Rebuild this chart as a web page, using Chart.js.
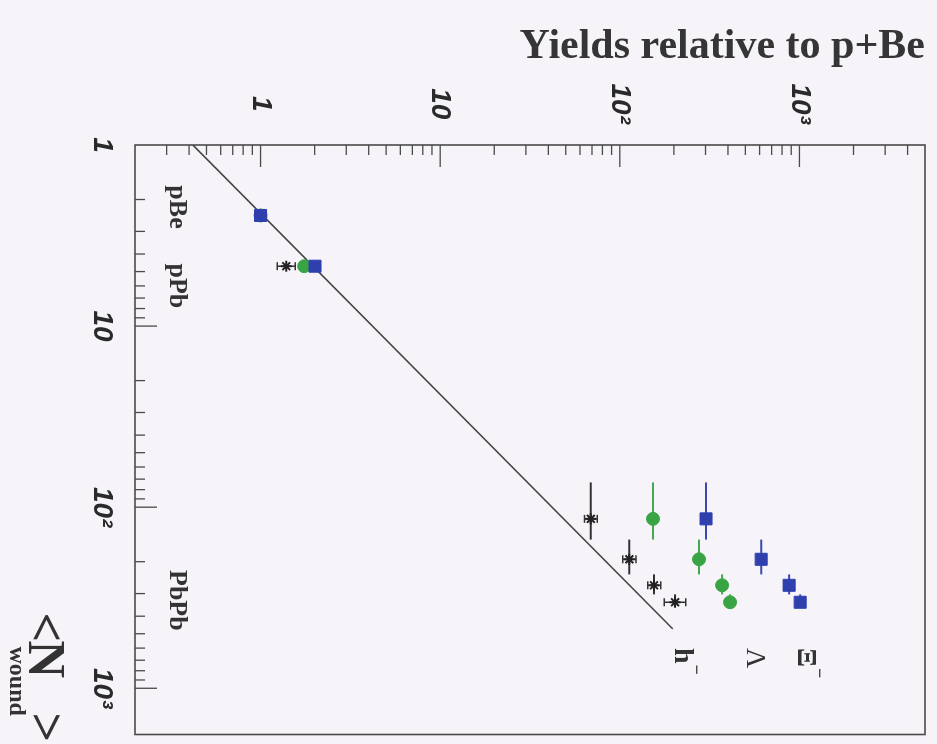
<!DOCTYPE html>
<html>
<head>
<meta charset="utf-8">
<script src="https://cdn.jsdelivr.net/npm/chart.js@4.4.1/dist/chart.umd.min.js"></script>
<style>
  html, body { margin: 0; padding: 0; width: 937px; height: 744px; overflow: hidden; background: #f6f3f9; }
  /* the plot is drawn upright and then turned a quarter turn clockwise, like the scan */
  #wrap { position: absolute; left: 0; top: 0; width: 744px; height: 937px;
          transform-origin: 0 0; transform: translate(937px, 0) rotate(90deg); }
</style>
</head>
<body>
<div id="wrap"><canvas id="yieldsChart" width="744" height="937"></canvas></div>
<script>
// tick labels (powers of ten)
const nTickLabels = ["1", "10", "10²", "10³"];
const yieldTickLabels = ["1", "10", "10²", "10³"];

// <N wound> for pBe, pPb and the four PbPb classes
const nWound = [2.45, 4.67, 116, 194, 270, 335];
const nWoundLo = [null, null, 73, 151, 235, 303];
const nWoundHi = [null, null, 151, 235, 303, 352];

// yields relative to p+Be
const xiYield = [1.0, 2.01, 302, 612, 876, 1009];
const lambdaYield = [1.0, 1.75, 153, 276, 371, 411];
const hYield = [1.0, 1.39, 69, 113, 155, 203];
const hYieldLo = [null, 1.24, 63.5, 104, 143, 177];
const hYieldHi = [null, 1.56, 75, 123, 169, 233];

// wounded nucleon scaling line
const scalingN = [1, 470];
const scalingYield = [0.42, 197];

// labels of the collision systems, placed at an <N wound> value
const systemLabels = ["pBe", "pPb", "PbPb"];
const systemLabelN = [2.2, 6.0, 327];

const pts = (xs, ys) => xs.map((x, i) => ({ x: x, y: ys[i] }));
const isPow10 = (v) => Math.abs(Math.log10(v) - Math.round(Math.log10(v))) < 1e-6;
const powLabel = (labels) => (v) => {
  const e = Math.round(Math.log10(v));
  return isPow10(v) && e >= 0 && e < labels.length ? labels[e] : "";
};

// frame with inward ticks on the two labelled axes
const frameTicks = {
  id: "frameTicks",
  beforeDatasetsDraw(chart) {
    const { ctx, chartArea: a, scales: { x, y } } = chart;
    ctx.save();
    ctx.strokeStyle = "#4a4a4a";
    ctx.lineWidth = 1.6;
    ctx.strokeRect(a.left, a.top, a.right - a.left, a.bottom - a.top);
    ctx.lineWidth = 1.3;
    const each = (scale, fn) => {
      for (let e = Math.floor(Math.log10(scale.min)); e <= Math.ceil(Math.log10(scale.max)); e++) {
        for (let s = 1; s <= 9; s++) {
          const v = s * Math.pow(10, e);
          if (v < scale.min * 1.001 || v > scale.max * 0.999) continue;
          fn(scale.getPixelForValue(v), s === 1 ? 22 : 10);
        }
      }
    };
    each(x, (px, len) => {
      ctx.beginPath(); ctx.moveTo(px, a.bottom); ctx.lineTo(px, a.bottom - len); ctx.stroke();
    });
    each(y, (py, len) => {
      ctx.beginPath(); ctx.moveTo(a.left, py); ctx.lineTo(a.left + len, py); ctx.stroke();
    });
    ctx.restore();
  }
};

// error bars: <N wound> range without caps, yield error with caps
const errorBars = {
  id: "errorBars",
  beforeDatasetsDraw(chart) {
    const { ctx, scales: { x, y } } = chart;
    chart.data.datasets.forEach((ds) => {
      if (!ds.xLo) return;
      ctx.save();
      ctx.strokeStyle = ds.barColor;
      ctx.lineWidth = 2;
      ds.data.forEach((p, i) => {
        const py = y.getPixelForValue(p.y);
        if (ds.xLo[i] != null) {
          ctx.beginPath();
          ctx.moveTo(x.getPixelForValue(ds.xLo[i]), py);
          ctx.lineTo(x.getPixelForValue(ds.xHi[i]), py);
          ctx.stroke();
        }
        if (ds.yLo && ds.yLo[i] != null) {
          const px = x.getPixelForValue(p.x);
          const y0 = y.getPixelForValue(ds.yLo[i]), y1 = y.getPixelForValue(ds.yHi[i]);
          ctx.lineWidth = 1.5;
          ctx.beginPath();
          ctx.moveTo(px, y0); ctx.lineTo(px, y1);
          ctx.moveTo(px - 4, y0); ctx.lineTo(px + 4, y0);
          ctx.moveTo(px - 4, y1); ctx.lineTo(px + 4, y1);
          ctx.stroke();
          ctx.lineWidth = 2;
        }
      });
      ctx.restore();
    });
  }
};

// texts: system names, species names and the <N wound> title
const textMarks = {
  id: "textMarks",
  afterDraw(chart) {
    const { ctx, chartArea: a, scales: { x } } = chart;
    ctx.save();
    ctx.fillStyle = "#333";
    ctx.textBaseline = "alphabetic";
    ctx.textAlign = "center";
    ctx.font = "bold 26px 'Liberation Serif'";
    systemLabels.forEach((s, i) => ctx.fillText(s, x.getPixelForValue(systemLabelN[i]), a.bottom - 35));

    ctx.textAlign = "left";
    const species = [["h", true, a.top + 250], ["Λ", false, a.top + 178], ["Ξ", true, a.top + 127]];
    species.forEach(([t, minus, base]) => {
      const x0 = a.left + 503;
      ctx.font = (t === "Λ" ? "" : "bold ") + "28px 'Liberation Serif'";
      ctx.fillText(t, x0, base);
      if (minus) {
        const w = ctx.measureText(t).width;
        ctx.font = "bold 18px 'Liberation Serif'";
        ctx.fillText("−", x0 + w + 1, base - 16);
      }
    });

    ctx.font = "bold 52px 'Liberation Serif'";
    const base = a.bottom + 106;
    ctx.fillText("<", a.right - 122, base);
    ctx.fillText("N", a.right - 94, base);
    ctx.fillText(">", a.right - 22, base);
    ctx.font = "bold 24px 'Liberation Serif'";
    ctx.fillText("wound", a.right - 88, base + 19);
    ctx.restore();
  }
};

const tickFont = { family: "Liberation Sans", size: 28, weight: "bold", style: "italic" };

new Chart(document.getElementById("yieldsChart"), {
  type: "scatter",
  data: {
    datasets: [
      {
        label: "Ξ−",
        data: pts(nWound, xiYield),
        pointStyle: "rect",
        pointRadius: 8.5,
        backgroundColor: "#2f3fae",
        borderColor: "#2f3fae",
        barColor: "#3a48b0",
        xLo: nWoundLo,
        xHi: nWoundHi,
      },
      {
        label: "Λ",
        data: pts(nWound, lambdaYield),
        pointStyle: "circle",
        pointRadius: 6.5,
        backgroundColor: "#38a444",
        borderColor: "#38a444",
        barColor: "#45a850",
        xLo: nWoundLo,
        xHi: nWoundHi,
      },
      {
        label: "h−",
        data: pts(nWound, hYield),
        pointStyle: "star",
        pointRadius: 5.5,
        borderWidth: 2,
        backgroundColor: "#222",
        borderColor: "#222",
        barColor: "#333",
        xLo: nWoundLo,
        xHi: nWoundHi,
        yLo: hYieldLo,
        yHi: hYieldHi,
      },
      {
        label: "scaling",
        data: pts(scalingN, scalingYield),
        showLine: true,
        pointRadius: 0,
        borderColor: "#444",
        borderWidth: 1.6,
      },
    ],
  },
  options: {
    responsive: false,
    animation: false,
    layout: { padding: { top: 12, right: 4, left: 0, bottom: 0 } },
    plugins: { legend: { display: false }, tooltip: { enabled: false } },
    scales: {
      x: {
        type: "logarithmic",
        min: 1,
        max: 1800,
        grid: { display: false, drawTicks: false },
        border: { display: false },
        ticks: { autoSkip: false, maxRotation: 0, padding: 16, color: "#2a2a2a", font: tickFont, callback: powLabel(nTickLabels) },
        afterFit: (s) => { s.height = 135; s.paddingLeft = 0; s.paddingRight = 0; },
      },
      y: {
        type: "logarithmic",
        min: 0.2,
        max: 5000,
        grid: { display: false, drawTicks: false },
        border: { display: false },
        ticks: { autoSkip: false, crossAlign: "center", padding: 21, color: "#2a2a2a", font: tickFont, callback: powLabel(yieldTickLabels) },
        title: {
          display: true,
          text: "Yields relative to p+Be",
          align: "end",
          color: "#353535",
          font: { family: "Liberation Serif", size: 42, weight: "bold" },
          padding: { top: 22, bottom: 0 },
        },
        afterFit: (s) => { s.width = 145; s.paddingTop = 0; s.paddingBottom = 0; },
      },
    },
  },
  plugins: [frameTicks, errorBars, textMarks],
});
</script>
</body>
</html>
